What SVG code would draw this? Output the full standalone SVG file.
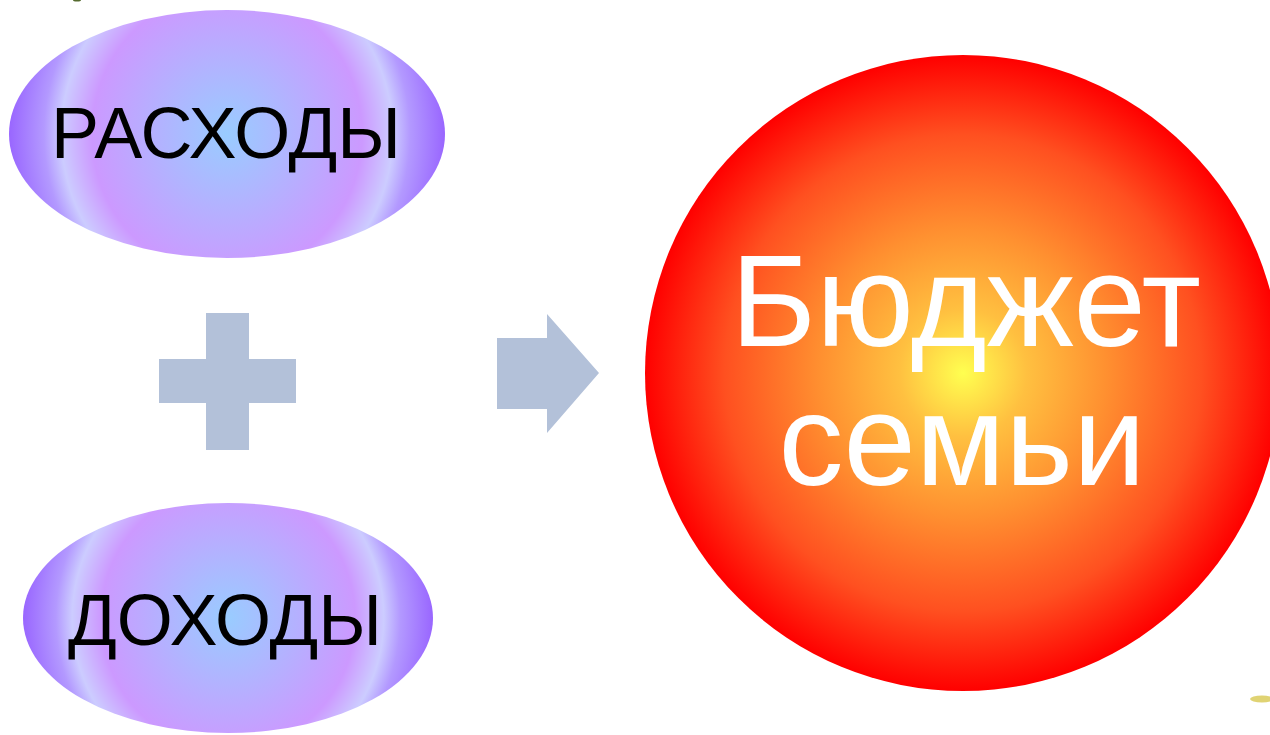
<svg xmlns="http://www.w3.org/2000/svg" width="1270" height="735" viewBox="0 0 1270 735">
  <defs>
    <radialGradient id="gOval" cx="0.5" cy="0.5" r="0.5" gradientTransform="translate(0.5 0.5) scale(1 1.85) translate(-0.5 -0.5)">
      <stop offset="0" stop-color="#99ccff"/>
      <stop offset="0.62" stop-color="#cc99ff"/>
      <stop offset="0.76" stop-color="#ccccff"/>
      <stop offset="0.84" stop-color="#b399ff"/>
      <stop offset="1" stop-color="#9966ff"/>
    </radialGradient>
    <radialGradient id="gSun" cx="0.5" cy="0.5" r="0.5">
      <stop offset="0" stop-color="#ffff50"/>
      <stop offset="0.2" stop-color="#ffc040"/>
      <stop offset="0.45" stop-color="#ff9030"/>
      <stop offset="0.75" stop-color="#ff5020"/>
      <stop offset="1" stop-color="#ff0000"/>
    </radialGradient>
    <style>
      .lbl { font-family: "Liberation Sans", Arial, sans-serif; text-anchor: middle; }
      .dark { fill: #000000; font-size: 72px; }
      .light { fill: #ffffff; font-size: 130px; }
      .sym { fill: #b3c1d9; }
    </style>
  </defs>
  <rect width="1270" height="735" fill="#ffffff"/>
  <ellipse cx="77" cy="0" rx="4" ry="1.5" fill="#556b2f"/>
  <ellipse cx="1262" cy="699" rx="12" ry="3.5" fill="#d8c850" opacity="0.8"/>
  <g id="rashody">
    <ellipse cx="227" cy="134" rx="218" ry="124" fill="url(#gOval)"/>
    <text class="lbl dark" x="226" y="158">РАСХОДЫ</text>
  </g>
  <g id="dohody">
    <ellipse cx="228" cy="618" rx="205" ry="115" fill="url(#gOval)"/>
    <text class="lbl dark" x="225" y="645">ДОХОДЫ</text>
  </g>
  <g id="connectors">
    <path class="sym" d="M206 313 H249 V359 H296 V403 H249 V450 H206 V403 H159 V359 H206 Z"/>
    <path class="sym" d="M497 338 H547 V314 L599 373 L547 433 V409 H497 Z"/>
  </g>
  <g id="budget">
    <circle cx="963" cy="373" r="318" fill="url(#gSun)"/>
    <text class="lbl light" x="966" y="346">Бюджет</text>
    <text class="lbl light" x="962" y="485">семьи</text>
  </g>
</svg>
